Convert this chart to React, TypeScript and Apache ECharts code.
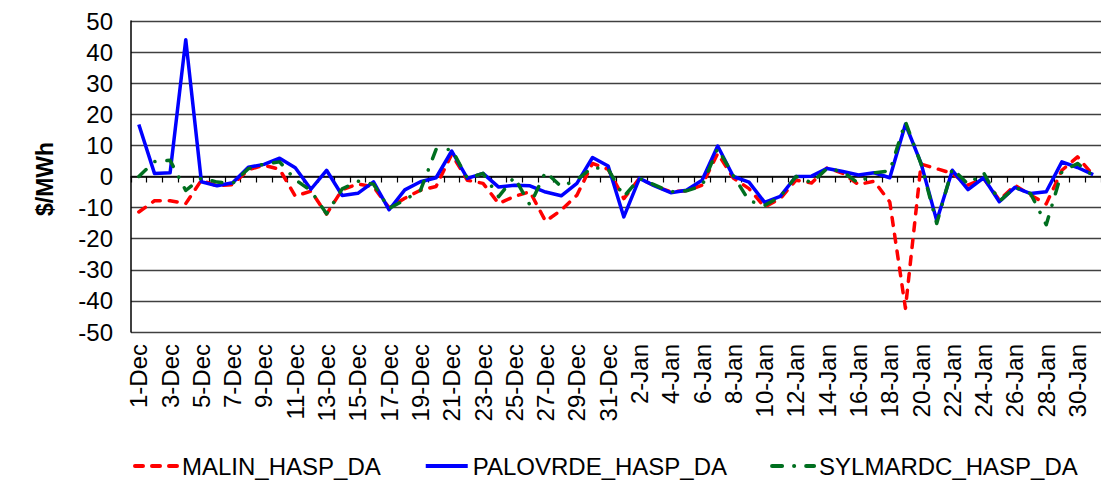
import { useEffect, useRef } from "react";
import * as echarts from "echarts";

const categories = [
  "1-Dec","2-Dec","3-Dec","4-Dec","5-Dec","6-Dec","7-Dec","8-Dec","9-Dec","10-Dec",
  "11-Dec","12-Dec","13-Dec","14-Dec","15-Dec","16-Dec","17-Dec","18-Dec","19-Dec","20-Dec",
  "21-Dec","22-Dec","23-Dec","24-Dec","25-Dec","26-Dec","27-Dec","28-Dec","29-Dec","30-Dec","31-Dec",
  "1-Jan","2-Jan","3-Jan","4-Jan","5-Jan","6-Jan","7-Jan","8-Jan","9-Jan","10-Jan",
  "11-Jan","12-Jan","13-Jan","14-Jan","15-Jan","16-Jan","17-Jan","18-Jan","19-Jan","20-Jan",
  "21-Jan","22-Jan","23-Jan","24-Jan","25-Jan","26-Jan","27-Jan","28-Jan","29-Jan","30-Jan","31-Jan",
];

const malin = [
  -11.4, -7.8, -7.8, -8.7, -1.2, -3.0, -2.6, 2.2, 3.6, 2.3,
  -6.3, -4.7, -12.1, -4.2, -2.4, -3.3, -10.1, -7.0, -4.4, -3.2,
  7.2, -1.2, -2.2, -8.7, -6.4, -4.9, -14.4, -10.8, -6.0, 4.2, 2.3,
  -7.1, -0.6, -3.1, -4.9, -4.6, -2.8, 7.4, -0.5, -3.9, -9.8,
  -7.1, -1.2, -2.1, 2.8, 1.0, -2.6, -1.5, -8.2, -42.4, 4.0,
  2.5, 1.0, -2.8, -0.6, -7.6, -2.8, -6.0, -8.8, 2.0, 6.3, 0.4,
];

const palovrde = [
  16.7, 1.0, 1.2, 44.0, -1.7, -3.0, -2.0, 3.0, 3.9, 5.9,
  2.8, -4.1, 2.0, -6.1, -5.4, -1.7, -10.7, -4.3, -1.7, -0.4,
  8.2, -0.6, 1.0, -3.4, -2.8, -3.0, -5.0, -6.2, -2.2, 6.1, 3.4,
  -13.0, -0.6, -3.1, -5.2, -4.4, -1.2, 9.8, 0.0, -1.8, -8.3,
  -6.4, 0.0, 0.1, 2.6, 1.6, 0.5, 1.2, -0.4, 16.8, 4.2,
  -14.2, 2.0, -4.2, -0.4, -8.1, -3.5, -5.5, -4.9, 4.7, 2.9, 0.6,
];

const sylmardc = [
  0.0, 4.8, 5.2, -4.5, -0.5, -1.8, -2.2, 2.5, 4.0, 4.7,
  -1.0, -4.6, -12.0, -4.0, -1.5, -2.5, -10.3, -7.5, -4.5, 8.7,
  8.7, -0.6, 1.0, -6.5, -0.2, -9.2, 1.5, -3.3, -1.0, 2.9, 2.4,
  -6.5, -0.6, -2.8, -4.9, -4.6, -3.0, 9.0, 0.3, -7.8, -9.3,
  -6.5, 0.0, -2.0, 2.6, 1.5, -2.2, 1.2, 1.8, 17.6, 4.0,
  -15.1, 2.6, -2.5, 1.2, -8.0, -3.5, -5.5, -15.5, 1.5, 4.2, 0.2,
];

const seriesNames = ["MALIN_HASP_DA", "PALOVRDE_HASP_DA", "SYLMARDC_HASP_DA"];
const yTitle = "$/MWh";

const FONT = "'Liberation Sans', Arial, sans-serif";

export default function App() {
  const ref = useRef<HTMLDivElement>(null);

  useEffect(() => {
    if (!ref.current) return;
    const chart = echarts.init(ref.current, null, { renderer: "svg" });
    chart.setOption({
      animation: false,
      backgroundColor: "#ffffff",
      textStyle: { fontFamily: FONT, color: "#000" },
      grid: { left: 131, top: 21, right: -5, bottom: 157, containLabel: false },
      legend: {
        left: 128,
        top: 449,
        itemWidth: 42,
        itemHeight: 14,
        itemGap: 43,
        itemStyle: { opacity: 0 },
        lineStyle: { width: 4 },
        textStyle: { fontFamily: FONT, fontSize: 24, color: "#000" },
        data: seriesNames,
      },
      graphic: [
        {
          type: "text",
          x: 45,
          y: 179,
          rotation: Math.PI / 2,
          style: {
            text: yTitle,
            fontFamily: FONT,
            fontSize: 23,
            fontWeight: "bold",
            fill: "#000",
            textAlign: "center",
            textVerticalAlign: "middle",
          },
        },
      ],
      xAxis: [
        {
          type: "category",
          data: categories,
          position: "bottom",
          boundaryGap: true,
          axisLine: { show: false, onZero: false },
          axisTick: { show: false },
          splitLine: { show: false },
          axisLabel: {
            interval: 1,
            rotate: 90,
            margin: 12,
            fontSize: 24,
            fontFamily: FONT,
            color: "#000",
          },
        },
        {
          type: "category",
          data: categories,
          position: "bottom",
          boundaryGap: true,
          axisLine: { show: true, onZero: true, lineStyle: { color: "#000", width: 1.5 } },
          axisTick: { show: true, interval: 0, length: 6, lineStyle: { color: "#000", width: 1.2 } },
          axisLabel: { show: false },
          splitLine: { show: false },
        },
      ],
      yAxis: {
        type: "value",
        min: -50,
        max: 50,
        interval: 10,
        axisLine: { show: true, lineStyle: { color: "#000", width: 1.5 } },
        axisTick: { show: false },
        axisLabel: { fontSize: 24, fontFamily: FONT, color: "#000", margin: 18 },
        splitLine: { show: true, lineStyle: { color: "#404040", width: 1.3 } },
      },
      series: [
        {
          name: seriesNames[0],
          type: "line",
          data: malin,
          xAxisIndex: 0,
          symbol: "none",
          z: 3,
          color: "#ff0000",
          lineStyle: { color: "#ff0000", width: 3.5, type: [8, 9], cap: "round", join: "round" },
        },
        {
          name: seriesNames[1],
          type: "line",
          data: palovrde,
          xAxisIndex: 0,
          symbol: "none",
          z: 4,
          color: "#0000ff",
          lineStyle: { color: "#0000ff", width: 3.5, type: "solid", join: "round" },
        },
        {
          name: seriesNames[2],
          type: "line",
          data: sylmardc,
          xAxisIndex: 0,
          symbol: "none",
          z: 5,
          color: "#006f1f",
          lineStyle: { color: "#006f1f", width: 3.5, type: [10, 12, 0.1, 12], cap: "round", join: "round" },
        },
      ],
    });
    return () => chart.dispose();
  }, []);

  return (
    <div
      ref={ref}
      style={{ position: "absolute", left: 0, top: 0, width: 1101, height: 489, background: "#fff" }}
    />
  );
}
